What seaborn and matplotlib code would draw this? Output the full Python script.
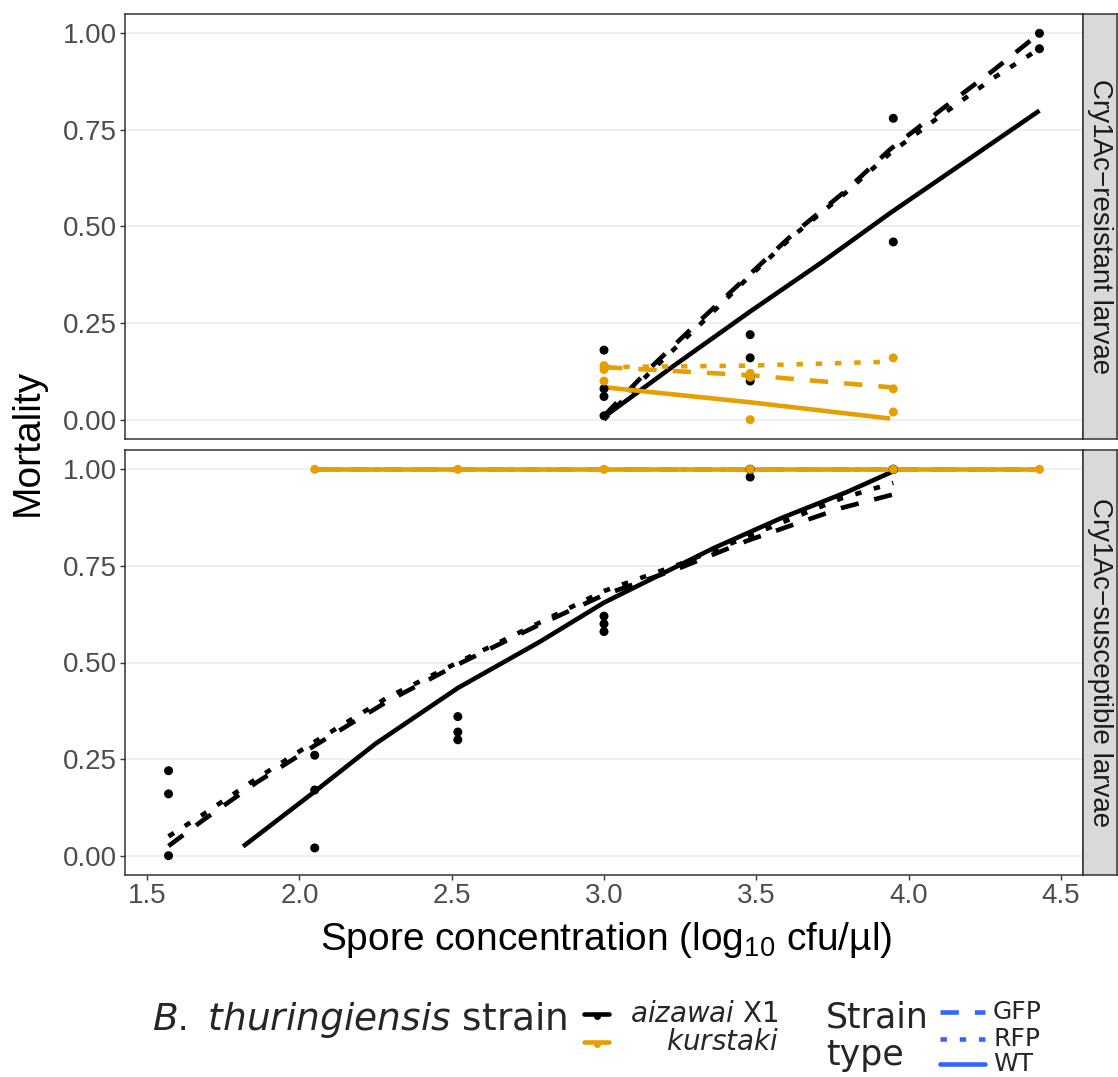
import matplotlib
matplotlib.use('Agg')
import numpy as np
import pandas as pd
import matplotlib.pyplot as plt
from matplotlib.lines import Line2D
import seaborn as sns

# ── Data ───────────────────────────────────────────────
panels = ['Cry1Ac\u2212resistant larvae', 'Cry1Ac\u2212susceptible larvae']
strains = ['aizawai X1', 'kurstaki']
types = ['GFP', 'RFP', 'WT']

# observed mortality, resistant larvae
res_ax_x = [3.0, 3.0, 3.0, 3.0, 3.48, 3.48, 3.48, 3.48, 3.95, 3.95, 4.43, 4.43]
res_ax_y = [0.18, 0.08, 0.06, 0.01, 0.22, 0.16, 0.11, 0.10, 0.78, 0.46, 1.00, 0.96]
res_ku_x = [3.0, 3.0, 3.0, 3.48, 3.48, 3.48, 3.95, 3.95, 3.95]
res_ku_y = [0.14, 0.10, 0.13, 0.12, 0.00, 0.11, 0.16, 0.08, 0.02]

# observed mortality, susceptible larvae
sus_ax_x = [1.57, 1.57, 1.57, 2.05, 2.05, 2.05, 2.52, 2.52, 2.52,
            3.0, 3.0, 3.0, 3.48, 3.48, 3.48, 3.95, 3.95, 3.95]
sus_ax_y = [0.22, 0.16, 0.00, 0.26, 0.17, 0.02, 0.36, 0.32, 0.30,
            0.62, 0.60, 0.58, 0.98, 1.00, 1.00, 1.00, 1.00, 1.00]
sus_ku_x = [2.05, 2.52, 3.0, 3.48, 3.95, 4.43]
sus_ku_y = [1.00, 1.00, 1.00, 1.00, 1.00, 1.00]

# fitted curves, resistant larvae
res_ax_fit_x = [3.0, 3.16, 3.32, 3.47, 3.62, 3.79, 3.94, 4.12, 4.28, 4.43]
res_ax_gfp = [0.01, 0.14, 0.26, 0.37, 0.48, 0.59, 0.70, 0.81, 0.905, 1.00]
res_ax_rfp = [0.00, 0.13, 0.25, 0.365, 0.475, 0.585, 0.69, 0.795, 0.885, 0.96]
res_ax_wt_x = [3.0, 3.23, 3.48, 3.72, 3.94, 4.19, 4.43]
res_ax_wt = [0.007, 0.14, 0.28, 0.41, 0.535, 0.67, 0.80]
res_ku_fit_x = [3.0, 3.48, 3.94]
res_ku_gfp = [0.136, 0.115, 0.084]
res_ku_rfp = [0.136, 0.14, 0.15]
res_ku_wt = [0.084, 0.045, 0.003]

# fitted curves, susceptible larvae
sus_ax_fit_x = [1.57, 1.68, 1.86, 2.05, 2.29, 2.52, 2.78, 3.0, 3.25, 3.47,
                3.67, 3.78, 3.95]
sus_ax_gfp = [0.025, 0.09, 0.19, 0.285, 0.40, 0.495, 0.595, 0.675, 0.745,
              0.815, 0.87, 0.90, 0.935]
sus_ax_rfp = [0.05, 0.105, 0.20, 0.295, 0.41, 0.50, 0.60, 0.685, 0.755,
              0.825, 0.89, 0.925, 0.965]
sus_ax_wt_x = [1.815, 2.05, 2.25, 2.52, 2.79, 3.0, 3.36, 3.58, 3.80, 3.95]
sus_ax_wt = [0.024, 0.166, 0.29, 0.434, 0.554, 0.655, 0.796, 0.873, 0.942,
             0.995]
sus_ku_fit_x = [2.05, 2.52, 3.0, 3.48, 3.95, 4.43]
sus_ku_gfp = [1.00, 1.00, 1.00, 1.00, 1.00, 1.00]
sus_ku_rfp = [1.00, 1.00, 1.00, 1.00, 1.00, 1.00]
sus_ku_wt = [1.00, 1.00, 1.00, 1.00, 1.00, 1.00]

y_ticks = [0.0, 0.25, 0.50, 0.75, 1.00]
x_ticks = [1.5, 2.0, 2.5, 3.0, 3.5, 4.0, 4.5]
# ───────────────────────────────────────────────────────


def pts_frame(panel, strain, xs, ys):
    return pd.DataFrame({'panel': panel, 'strain': strain, 'x': xs, 'y': ys})


def fit_frame(panel, strain, kind, xs, ys):
    return pd.DataFrame({'panel': panel, 'strain': strain, 'type': kind,
                         'x': xs, 'y': ys})


points = pd.concat([
    pts_frame(panels[0], strains[0], res_ax_x, res_ax_y),
    pts_frame(panels[0], strains[1], res_ku_x, res_ku_y),
    pts_frame(panels[1], strains[0], sus_ax_x, sus_ax_y),
    pts_frame(panels[1], strains[1], sus_ku_x, sus_ku_y),
], ignore_index=True)

fits = pd.concat([
    fit_frame(panels[0], strains[0], 'GFP', res_ax_fit_x, res_ax_gfp),
    fit_frame(panels[0], strains[0], 'RFP', res_ax_fit_x, res_ax_rfp),
    fit_frame(panels[0], strains[0], 'WT', res_ax_wt_x, res_ax_wt),
    fit_frame(panels[0], strains[1], 'GFP', res_ku_fit_x, res_ku_gfp),
    fit_frame(panels[0], strains[1], 'RFP', res_ku_fit_x, res_ku_rfp),
    fit_frame(panels[0], strains[1], 'WT', res_ku_fit_x, res_ku_wt),
    fit_frame(panels[1], strains[0], 'GFP', sus_ax_fit_x, sus_ax_gfp),
    fit_frame(panels[1], strains[0], 'RFP', sus_ax_fit_x, sus_ax_rfp),
    fit_frame(panels[1], strains[0], 'WT', sus_ax_wt_x, sus_ax_wt),
    fit_frame(panels[1], strains[1], 'GFP', sus_ku_fit_x, sus_ku_gfp),
    fit_frame(panels[1], strains[1], 'RFP', sus_ku_fit_x, sus_ku_rfp),
    fit_frame(panels[1], strains[1], 'WT', sus_ku_fit_x, sus_ku_wt),
], ignore_index=True)

# ── Style ──────────────────────────────────────────────
sns.set_style('white')
plt.rcParams['font.family'] = ['Liberation Sans', 'DejaVu Sans']
plt.rcParams['mathtext.fontset'] = 'custom'
plt.rcParams['mathtext.rm'] = 'Liberation Sans'
plt.rcParams['mathtext.it'] = 'DejaVu Sans:italic'

palette = {'aizawai X1': '#000000', 'kurstaki': '#E69F00'}
dash_map = {'GFP': (4.0, 3.5), 'RFP': (1.4, 2.8), 'WT': ''}
LEG_BLUE = '#3366FF'
LEG_FONT = ['DejaVu Sans']
LW = 3.3
W, H = 1118, 1077

fig = plt.figure(figsize=(W / 100, H / 100), dpi=100)

ax_top = fig.add_axes([125 / W, 1 - 439 / H, 958 / W, 425 / H])
ax_bot = fig.add_axes([125 / W, 1 - 875 / H, 958 / W, 425 / H])

for ax, panel in zip([ax_top, ax_bot], panels):
    sub_fit = fits[fits['panel'] == panel]
    sub_pts = points[points['panel'] == panel]
    sns.lineplot(data=sub_fit, x='x', y='y', hue='strain', style='type',
                 hue_order=strains, style_order=types, palette=palette,
                 dashes=dash_map, linewidth=LW, estimator=None, sort=False,
                 legend=False, ax=ax)
    for ln in ax.get_lines():
        ln.set_dash_capstyle('butt')
        ln.set_solid_capstyle('butt')
    sns.scatterplot(data=sub_pts, x='x', y='y', hue='strain',
                    hue_order=strains, palette=palette, s=42, linewidth=0,
                    legend=False, ax=ax, zorder=3)

    ax.set_xlim(1.427, 4.573)
    ax.set_ylim(-0.05, 1.05)
    ax.set_yticks(y_ticks)
    ax.set_yticklabels([f'{t:.2f}' for t in y_ticks])
    ax.set_xticks(x_ticks)
    ax.set_xlabel('')
    ax.set_ylabel('')
    ax.grid(axis='y', color='#EBEBEB', linewidth=1.1)
    ax.grid(axis='x', visible=False)
    ax.set_axisbelow(True)
    for sp in ax.spines.values():
        sp.set_color('#333333')
        sp.set_linewidth(1.1)
    ax.tick_params(axis='both', which='major', length=3.5, width=1,
                   color='#333333', labelsize=20, labelcolor='#4D4D4D',
                   pad=2, left=True, bottom=True)

    # facet strip on the right
    pos = ax.get_position()
    strip = fig.add_axes([pos.x1, pos.y0, 1 - pos.x1 - 0.0005, pos.height])
    strip.set_facecolor('#D9D9D9')
    strip.set_xticks([])
    strip.set_yticks([])
    for sp in strip.spines.values():
        sp.set_color('#333333')
        sp.set_linewidth(1.1)
    strip.text(0.5, 0.5, panel, rotation=-90, ha='center', va='center',
               fontsize=20, color='#1A1A1A', transform=strip.transAxes)

ax_top.tick_params(axis='x', bottom=False, labelbottom=False)

fig.text(28 / W, 1 - 442 / H, 'Mortality', rotation=90, ha='center',
         va='center', fontsize=28, color='black')
fig.text(606 / W, 1 - 940 / H, 'Spore concentration (log$_{10}$ cfu/\u00b5l)',
         ha='center', va='center', fontsize=28, color='black')

# ── Legend (drawn by hand to match the layout) ─────────
def fy(py):
    return 1 - py / H


fig.text(152 / W, fy(1020), r'$B.\ thuringiensis$ strain', ha='left',
         va='center', fontsize=27, family=LEG_FONT)
for strain, py, lab in [('aizawai X1', 1014, r'$aizawai$ X1'),
                        ('kurstaki', 1042, r'$kurstaki$')]:
    fig.add_artist(Line2D([584 / W, 609 / W], [fy(py), fy(py)],
                          color=palette[strain], linewidth=LW,
                          transform=fig.transFigure))
    fig.add_artist(Line2D([596.5 / W], [fy(py + 2)], marker='o',
                          markersize=4, color=palette[strain], linewidth=0,
                          transform=fig.transFigure))
    fig.text(779 / W, fy(py), lab, ha='right', va='center', fontsize=20,
             family=LEG_FONT)

fig.text(826 / W, fy(1017), 'Strain', ha='left', va='center', fontsize=25,
         family=LEG_FONT)
fig.text(826 / W, fy(1055), 'type', ha='left', va='center', fontsize=25,
         family=LEG_FONT)
for kind, py in [('GFP', 1012), ('RFP', 1039), ('WT', 1064)]:
    ln = Line2D([940 / W, 985 / W], [fy(py), fy(py)], color=LEG_BLUE,
                linewidth=LW, transform=fig.transFigure)
    if dash_map[kind]:
        ln.set_dashes(dash_map[kind])
    ln.set_dash_capstyle('butt')
    fig.add_artist(ln)
    fig.text(993 / W, fy(py), kind, ha='left', va='center', fontsize=18,
             family=LEG_FONT)

fig.savefig('out.png', dpi=100)
plt.close(fig)
